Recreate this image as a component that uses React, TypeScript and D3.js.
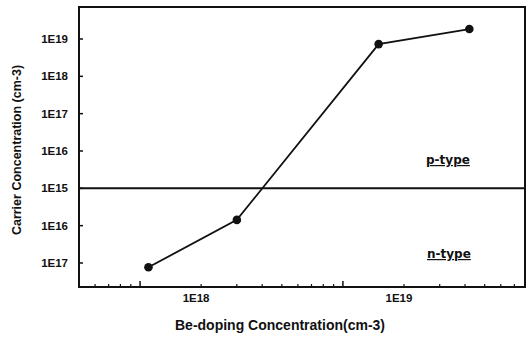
import React from "react";
import * as d3 from "d3";

// Be-doping level (cm^-3) and measured carrier concentration (cm^-3)
const beDoping = [1.1e18, 3.0e18, 1.5e19, 4.2e19];
const carrierConc = [1.3e17, 7.0e15, 7.3e18, 1.85e19];
const carrierType = ["n", "n", "p", "p"];

// Y axis: p-type decades above the 1E15 reference, n-type decades below
const yTickValues = [4, 3, 2, 1, 0, -1, -2];
const yTickLabels = ["1E19", "1E18", "1E17", "1E16", "1E15", "1E16", "1E17"];

const xMajorTicks = [1e18, 1e19];
const xMajorLabels = ["1E18", "1E19"];

const W = 527;
const H = 338;
const plot = { left: 79, right: 525, top: 7, bottom: 287 };

// signed decade position relative to 1E15
const signedLog = (v: number, type: string) =>
  type === "p" ? Math.log10(v) - 15 : -(Math.log10(v) - 15);

export default function App() {
  const x = d3.scaleLog().domain([5e17, 7.9e19]).range([plot.left, plot.right]);
  const y = d3
    .scaleLinear()
    .domain([4.857, -2.643])
    .range([plot.top, plot.bottom]);

  const pts = beDoping.map((b, i) => [x(b), y(signedLog(carrierConc[i], carrierType[i]))] as [number, number]);
  const line = d3.line();

  // minor ticks for each decade within the domain
  const minorTicks: number[] = [];
  for (let e = 17; e <= 19; e++) {
    for (let m = 2; m <= 9; m++) {
      const v = m * Math.pow(10, e);
      if (v > 5e17 && v < 7.9e19) minorTicks.push(v);
    }
  }

  const tickFont = "'Liberation Sans', Arial, sans-serif";
  const labelShift = 56;

  return (
    <svg
      width={W}
      height={H}
      style={{ position: "absolute", left: 0, top: 0, background: "#ffffff" }}
    >
      <rect x={0} y={0} width={W} height={H} fill="#ffffff" />

      {/* 1E15 boundary between p-type and n-type */}
      <line
        x1={plot.left}
        x2={plot.right}
        y1={y(0)}
        y2={y(0)}
        stroke="#111"
        strokeWidth={2}
      />

      {/* y ticks */}
      {yTickValues.map((v, i) => (
        <g key={"y" + i}>
          <line x1={plot.left} x2={plot.left + 4} y1={y(v)} y2={y(v)} stroke="#111" strokeWidth={1.5} />
          <text
            x={68}
            y={y(v) + 4}
            textAnchor="end"
            fontFamily={tickFont}
            fontWeight="bold"
            fontSize={11.5}
            fill="#111"
          >
            {yTickLabels[i]}
          </text>
        </g>
      ))}

      {/* x ticks */}
      {minorTicks.map((v, i) => (
        <line key={"m" + i} x1={x(v)} x2={x(v)} y1={plot.bottom} y2={plot.bottom - 3} stroke="#111" strokeWidth={1.2} />
      ))}
      {xMajorTicks.map((v, i) => (
        <g key={"x" + i}>
          <line x1={x(v)} x2={x(v)} y1={plot.bottom} y2={plot.bottom - 6} stroke="#111" strokeWidth={1.5} />
          <text
            x={x(v) + labelShift}
            y={302}
            textAnchor="middle"
            fontFamily={tickFont}
            fontWeight="bold"
            fontSize={11.5}
            fill="#111"
          >
            {xMajorLabels[i]}
          </text>
        </g>
      ))}

      {/* data */}
      <path d={line(pts) || ""} fill="none" stroke="#111" strokeWidth={1.8} />
      {pts.map((p, i) => (
        <circle key={"p" + i} cx={p[0]} cy={p[1]} r={4.3} fill="#111" />
      ))}

      {/* region labels */}
      <text x={426} y={164} fontFamily="'DejaVu Sans', Verdana, sans-serif" fontWeight="bold" fontSize={12} fill="#111" textDecoration="underline">
        p-type
      </text>
      <text x={427} y={258} fontFamily="'DejaVu Sans', Verdana, sans-serif" fontWeight="bold" fontSize={12} fill="#111" textDecoration="underline">
        n-type
      </text>

      {/* frame */}
      <rect
        x={plot.left}
        y={plot.top}
        width={plot.right - plot.left}
        height={plot.bottom - plot.top}
        fill="none"
        stroke="#111"
        strokeWidth={2}
      />

      {/* axis titles */}
      <text
        x={280}
        y={330}
        textAnchor="middle"
        fontFamily={tickFont}
        fontWeight="bold"
        fontSize={14}
        fill="#111"
      >
        Be-doping Concentration(cm-3)
      </text>
      <text
        transform={`translate(21,150) rotate(-90)`}
        textAnchor="middle"
        fontFamily={tickFont}
        fontWeight="bold"
        fontSize={12.5}
        fill="#111"
      >
        Carrier Concentration  (cm-3)
      </text>
    </svg>
  );
}
